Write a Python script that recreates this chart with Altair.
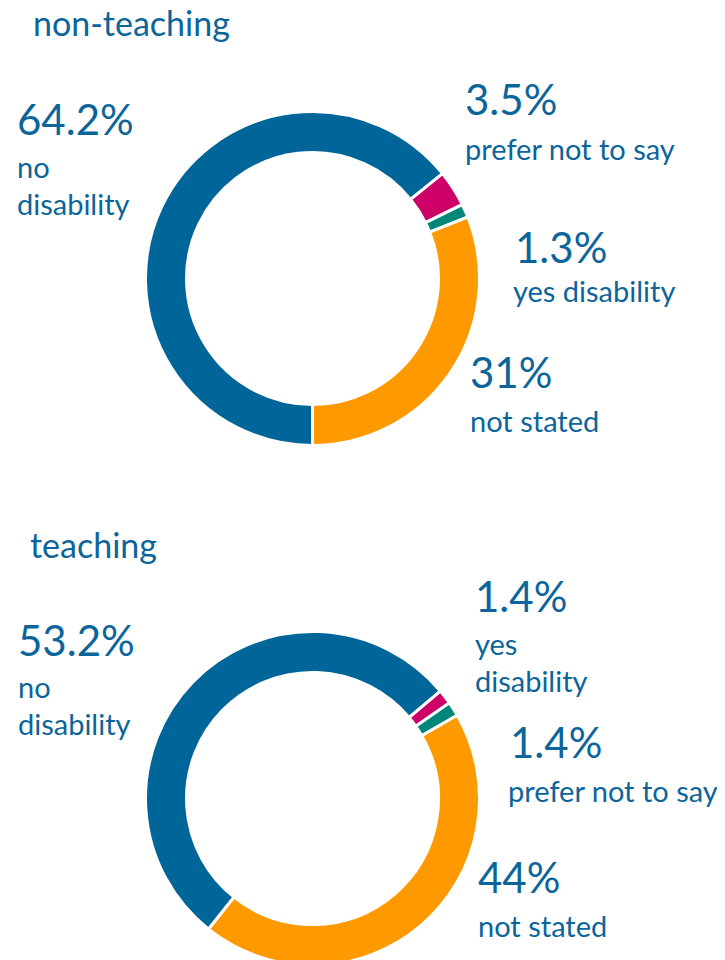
import math
import altair as alt
import pandas as pd

# ---- data ----
categories = ["no disability", "prefer not to say", "yes disability", "not stated"]
non_teaching = [64.2, 3.5, 1.3, 31.0]
teaching = [53.2, 1.4, 1.4, 44.0]
colors = ["#006699", "#CC0066", "#00877A", "#FF9900"]

pct_text_nt = ["64.2%", "3.5%", "1.3%", "31%"]
cat_text_nt = ["no\ndisability", "prefer not to say", "yes disability", "not stated"]
pct_text_t = ["53.2%", "1.4%", "1.4%", "44%"]
cat_text_t = ["no\ndisability", "yes\ndisability", "prefer not to say", "not stated"]
titles = ["non-teaching", "teaching"]

# ---- layout (pixel positions, chart coordinates) ----
pct_x_nt = [9, 457, 507, 462]
pct_y_nt = [127, 107, 255, 380]
cat_x_nt = [9, 457, 505, 462]
cat_y_nt = [170, 152, 294, 424]
pct_x_t = [10, 467, 502, 470]
pct_y_t = [648, 604, 750, 885]
cat_x_t = [10, 467, 500, 470]
cat_y_t = [690, 647, 794, 929]
title_x = [25, 22]
title_y = [28, 550]

TEXT = "#0B659A"
FONT = "Lato"
CX = 304.5
CY = [270.5, 790.5]
STARTS = [math.pi, math.radians(218.5)]

arc_df = [
    pd.DataFrame({"category": categories, "value": vals, "idx": list(range(4))})
    for vals in (non_teaching, teaching)
]

color_enc = alt.Color("category:N", scale=alt.Scale(domain=categories, range=colors), legend=None)

arcs = []
for i in range(2):
    s = STARTS[i]
    arcs.append(
        alt.Chart(arc_df[i])
        .mark_arc(outerRadius=167, innerRadius=126, stroke="white", strokeWidth=3)
        .encode(
            theta=alt.Theta("value:Q", stack=True, scale=alt.Scale(range=[s, s + 2 * math.pi])),
            order=alt.Order("idx:Q"),
            color=color_enc,
            x=alt.value(CX),
            y=alt.value(CY[i]),
        )
    )

big_df = pd.DataFrame({
    "t": pct_text_nt + pct_text_t,
    "x": pct_x_nt + pct_x_t,
    "y": pct_y_nt + pct_y_t,
})
small_df = pd.DataFrame({
    "t": cat_text_nt + cat_text_t,
    "x": cat_x_nt + cat_x_t,
    "y": cat_y_nt + cat_y_t,
})
title_df = pd.DataFrame({"t": titles, "x": title_x, "y": title_y})


def text_layer(df, size):
    return (
        alt.Chart(df)
        .mark_text(align="left", baseline="alphabetic", font=FONT, fontSize=size,
                   color=TEXT, lineBreak="\n", lineHeight=37)
        .encode(
            x=alt.X("x:Q", scale=None, axis=None),
            y=alt.Y("y:Q", scale=None, axis=None),
            text="t:N",
        )
    )


chart = (
    alt.layer(
        arcs[0], arcs[1],
        text_layer(big_df, 42),
        text_layer(small_df, 29),
        text_layer(title_df, 34),
    )
    .resolve_scale(theta="independent")
    .properties(width=709, height=952, padding=0, autosize=alt.AutoSizeParams(type="none"))
    .configure_view(stroke=None)
)

chart.save("out.html", embed_options={"renderer": "svg", "actions": False})
